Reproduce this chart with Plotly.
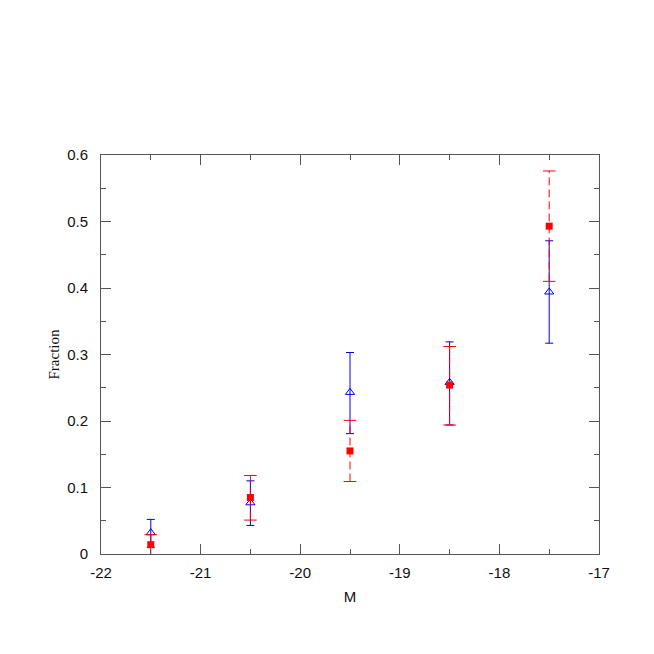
import plotly.graph_objects as go

# magnitude bins
mag = [-21.5, -20.5, -19.5, -18.5, -17.5]

# blue sample (open triangles, solid error bars)
blue_frac = [0.032, 0.077, 0.243, 0.258, 0.394]
blue_hi = [0.052, 0.110, 0.303, 0.319, 0.471]
blue_lo = [0.010, 0.043, 0.181, 0.194, 0.317]

# red sample (filled squares, dashed error bars)
red_frac = [0.014, 0.085, 0.155, 0.254, 0.493]
red_hi = [0.029, 0.118, 0.201, 0.312, 0.576]
red_lo = [-0.002, 0.051, 0.109, 0.194, 0.410]

# tick labels (plain hyphen minus like the original)
x_ticks = [-22, -21, -20, -19, -18, -17]
x_labels = ['-22', '-21', '-20', '-19', '-18', '-17']

BLUE = '#0000ff'
RED = '#ff0000'
AXIS = '#555555'

fig = go.Figure()

# blue points with ordinary error bars
fig.add_trace(go.Scatter(
    x=mag, y=blue_frac, mode='markers',
    marker=dict(symbol='triangle-up-open', size=8, color=BLUE, line=dict(width=1)),
    error_y=dict(type='data', symmetric=False,
                 array=[h - v for h, v in zip(blue_hi, blue_frac)],
                 arrayminus=[v - l for v, l in zip(blue_frac, blue_lo)],
                 color=BLUE, thickness=1, width=4),
    showlegend=False
))

# red error bars are dashed, so build them as line segments
ex, ey = [], []
for m, lo, hi in zip(mag, red_lo, red_hi):
    ex += [m, m, None]
    ey += [lo, hi, None]
fig.add_trace(go.Scatter(
    x=ex, y=ey, mode='lines',
    line=dict(color=RED, width=1, dash='8px,4px'),
    showlegend=False
))
# caps
fig.add_trace(go.Scatter(
    x=mag + mag, y=red_hi + red_lo, mode='markers',
    marker=dict(symbol='line-ew-open', size=9, color=RED, line=dict(width=1, color=RED)),
    showlegend=False
))
fig.add_trace(go.Scatter(
    x=mag, y=red_frac, mode='markers',
    marker=dict(symbol='square', size=7, color=RED, line=dict(width=0)),
    showlegend=False
))

axis_common = dict(
    showline=True, linecolor=AXIS, linewidth=1, mirror='ticks',
    ticks='inside', ticklen=10, tickcolor=AXIS, tickwidth=1,
    showgrid=False, zeroline=False,
    tickfont=dict(family='Liberation Sans, Arial, sans-serif', size=15, color='#111'),
)

fig.update_xaxes(
    range=[-22, -17], tickvals=x_ticks, ticktext=x_labels,
    minor=dict(ticks='inside', ticklen=5, dtick=0.5, tickcolor=AXIS, showgrid=False),
    title=dict(text='M', font=dict(family='Liberation Sans, Arial, sans-serif', size=15, color='#111'),
               standoff=11),
    ticklabelstandoff=5,
    **axis_common
)
fig.update_yaxes(
    range=[0, 0.6], dtick=0.1, tick0=0,
    minor=dict(ticks='inside', ticklen=5, dtick=0.05, tickcolor=AXIS, showgrid=False),
    title=dict(text='Fraction', font=dict(family='Liberation Serif, Times New Roman, serif', size=15, color='#111'),
               standoff=3),
    ticklabelstandoff=9,
    **axis_common
)

fig.update_layout(
    width=654, height=654,
    margin=dict(l=93, r=63, t=147, b=108),
    plot_bgcolor='white', paper_bgcolor='white',
)

fig.write_html("out.html")
